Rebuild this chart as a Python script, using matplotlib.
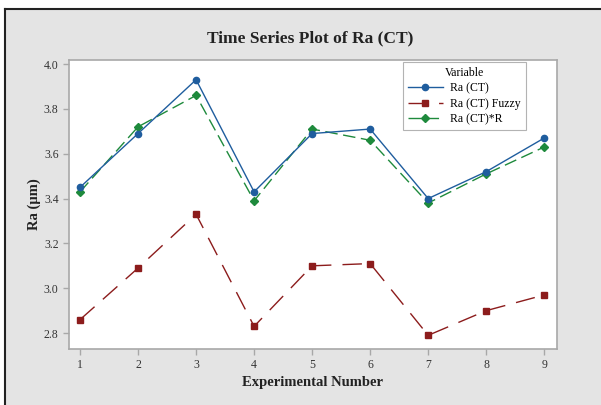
import matplotlib
matplotlib.use("Agg")
import matplotlib.pyplot as plt
from matplotlib.patches import Rectangle
from matplotlib.lines import Line2D

experiments = [1, 2, 3, 4, 5, 6, 7, 8, 9]
ra_ct = [3.45, 3.69, 3.93, 3.43, 3.69, 3.71, 3.40, 3.52, 3.67]
ra_fuzzy = [2.86, 3.09, 3.33, 2.83, 3.10, 3.11, 2.79, 2.90, 2.97]
ra_r = [3.43, 3.72, 3.86, 3.39, 3.71, 3.66, 3.38, 3.51, 3.63]
y_ticks = [2.8, 3.0, 3.2, 3.4, 3.6, 3.8, 4.0]

plt.rcParams['font.family'] = ['Liberation Serif', 'DejaVu Serif']

W, H = 601, 405
fig = plt.figure(figsize=(W / 100, H / 100), dpi=100)
fig.patch.set_facecolor('white')

# gray panel with dark top/left border
fig.patches.append(Rectangle((5 / W, 0), 1 - 5 / W, 1 - 9 / H, transform=fig.transFigure,
                             facecolor='#e4e4e4', edgecolor='none', zorder=-10))
fig.lines.append(Line2D([5 / W, 1], [1 - 9 / H, 1 - 9 / H], transform=fig.transFigure,
                        color='#222222', lw=1.5))
fig.lines.append(Line2D([5 / W, 5 / W], [0, 1 - 9 / H], transform=fig.transFigure,
                        color='#222222', lw=1.5))

ax = fig.add_axes([69 / W, 1 - 349 / H, (557 - 69) / W, (349 - 60) / H])
ax.set_facecolor('white')

blue = '#1f5d9e'
red = '#8c1c1c'
green = '#1e8a3c'

ax.plot(experiments, ra_ct, color=blue, lw=1.0, marker='o', ms=4.5,
        label='Ra (CT)', zorder=3)
ax.plot(experiments, ra_fuzzy, color=red, lw=1.0, marker='s', ms=4.5,
        dashes=(14, 8), label='Ra (CT) Fuzzy', zorder=3)
ax.plot(experiments, ra_r, color=green, lw=1.0, marker='D', ms=4.2,
        dashes=(9, 4), label='Ra (CT)*R', zorder=2)

ax.set_xlim(0.81, 9.22)
ax.set_ylim(2.729, 4.018)
ax.set_xticks(experiments)
ax.set_yticks(y_ticks)
ax.set_yticklabels([f'{v:.1f}' for v in y_ticks])

for s in ax.spines.values():
    s.set_color('#a8a8a8')
    s.set_linewidth(1.2)
ax.tick_params(axis='both', colors='#a8a8a8', labelcolor='#333333', labelsize=8.5,
               length=4, width=1)

ax.set_xlabel('Experimental Number', fontsize=10.5, fontweight='bold', color='#222222',
              labelpad=3)
ax.set_ylabel('Ra (µm)', fontsize=10.5, fontweight='bold', color='#222222', labelpad=2)
fig.text(310 / W, 1 - 38 / H, 'Time Series Plot of Ra (CT)', ha='center', va='center',
         fontsize=12.5, fontweight='bold', color='#222222')

leg = ax.legend(title='Variable', loc='upper left',
                bbox_to_anchor=((403 - 69) / (557 - 69), 1 - 2 / 289),
                borderaxespad=0, fontsize=8.5, title_fontsize=8.5, frameon=True,
                fancybox=False, handlelength=3.0, borderpad=0.4, labelspacing=0.3,
                handletextpad=0.6)
leg.get_frame().set_edgecolor('#a0a0a0')
leg.get_frame().set_linewidth(0.8)

fig.savefig('out.png', dpi=100, facecolor=fig.get_facecolor())
